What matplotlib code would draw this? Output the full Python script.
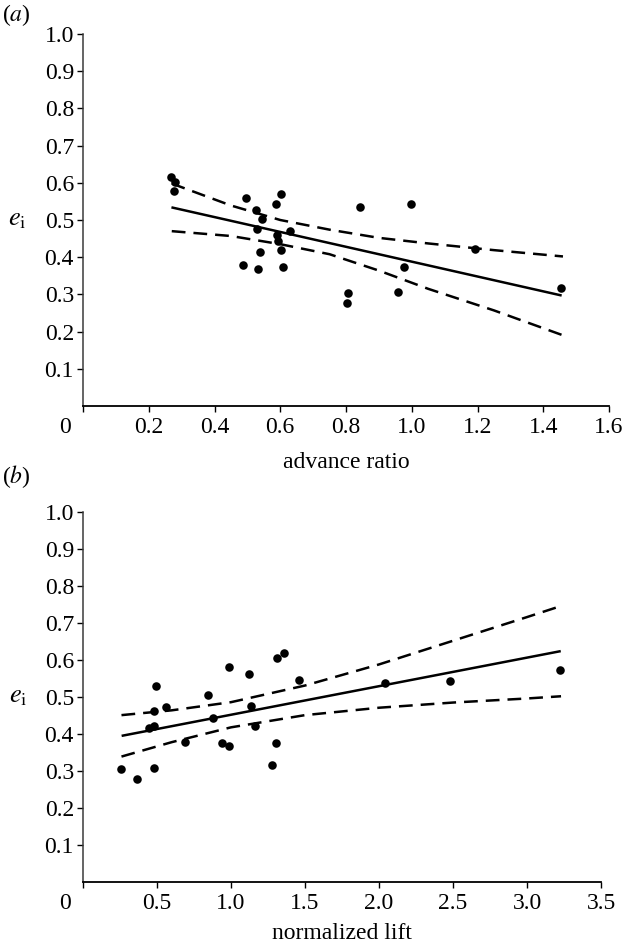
import matplotlib
matplotlib.use("Agg")
import matplotlib.pyplot as plt
import numpy as np

plt.rcParams['font.family'] = ['Liberation Serif', 'DejaVu Serif']
plt.rcParams['mathtext.fontset'] = 'stix'

# ---- Panel (a): advance ratio ----
adv_x = [0.269, 0.279, 0.278, 0.497, 0.603, 0.586, 0.525, 0.545, 0.529, 0.630,
         0.589, 0.594, 0.539, 0.603, 0.488, 0.531, 0.609, 0.844, 0.998, 1.193,
         0.975, 1.455, 0.807, 0.802, 0.958]
adv_y = [0.616, 0.603, 0.578, 0.560, 0.571, 0.544, 0.527, 0.503, 0.475, 0.471,
         0.461, 0.444, 0.415, 0.419, 0.378, 0.368, 0.374, 0.536, 0.542, 0.421,
         0.373, 0.316, 0.305, 0.278, 0.306]
adv_fit_x = [0.269, 1.456]
adv_fit_y = [0.534, 0.297]
adv_band_x = [0.27, 0.45, 0.60, 0.75, 0.90, 1.05, 1.25, 1.46]
adv_band_up = [0.598, 0.539, 0.500, 0.474, 0.452, 0.437, 0.419, 0.402]
adv_band_lo = [0.470, 0.457, 0.435, 0.408, 0.364, 0.315, 0.257, 0.190]
adv_xticks = [0, 0.2, 0.4, 0.6, 0.8, 1.0, 1.2, 1.4, 1.6]

# ---- Panel (b): normalized lift ----
lift_x = [0.259, 0.367, 0.482, 0.446, 0.480, 0.482, 0.496, 0.561, 0.689, 0.845,
          0.876, 0.939, 0.986, 0.986, 1.120, 1.135, 1.160, 1.275, 1.304, 1.311,
          1.361, 1.462, 2.039, 2.482, 3.226]
lift_y = [0.305, 0.278, 0.307, 0.417, 0.422, 0.461, 0.529, 0.473, 0.379, 0.505,
          0.444, 0.375, 0.580, 0.368, 0.561, 0.477, 0.422, 0.317, 0.376, 0.605,
          0.618, 0.546, 0.539, 0.544, 0.573]
lift_fit_x = [0.261, 3.228]
lift_fit_y = [0.395, 0.624]
lift_band_x = [0.26, 0.60, 1.00, 1.50, 2.00, 2.50, 3.00, 3.23]
lift_band_up = [0.451, 0.464, 0.486, 0.531, 0.588, 0.652, 0.716, 0.746]
lift_band_lo = [0.339, 0.378, 0.418, 0.451, 0.471, 0.485, 0.496, 0.502]
lift_xticks = [0, 0.5, 1.0, 1.5, 2.0, 2.5, 3.0, 3.5]

yticks = [0.1, 0.2, 0.3, 0.4, 0.5, 0.6, 0.7, 0.8, 0.9, 1.0]

FS = 17
W, H = 622, 947
fig = plt.figure(figsize=(W / 100, H / 100), dpi=100)

def make_axes(rect, xs, ys, fx, fy, bx, bu, bl, xticks, xmax, xlabel, label_y, tag, tag_y):
    ax = fig.add_axes(rect)
    ax.scatter(xs, ys, s=38, color='black', zorder=3, linewidths=0)
    ax.plot(fx, fy, color='black', lw=1.8, solid_capstyle='butt')
    dash = (0, (5.5, 3.2))
    ax.plot(bx, bu, color='black', lw=1.8, linestyle=dash)
    ax.plot(bx, bl, color='black', lw=1.8, linestyle=dash)
    ax.set_xlim(0, xmax)
    ax.set_ylim(0, 1.0)
    ax.set_xticks(xticks)
    ax.set_xticklabels([''] + [f'{t:.1f}' for t in xticks[1:]])
    ax.set_yticks(yticks)
    ax.set_yticklabels([f'{t:.1f}' for t in yticks])
    for s in ['top', 'right']:
        ax.spines[s].set_visible(False)
    ax.spines['left'].set_color('#3a3a3a')
    ax.spines['left'].set_linewidth(1.1)
    ax.spines['bottom'].set_linewidth(1.3)
    ax.tick_params(axis='both', direction='out', length=4.5, width=1.0,
                   labelsize=FS, colors='black')
    ax.tick_params(axis='y', pad=2)
    ax.tick_params(axis='x', pad=3.5)
    ax.annotate('0', xy=(0, 0), xycoords='data', xytext=(-13, -7.7),
                textcoords='offset points', ha='center', va='top', fontsize=FS)
    ax.set_xlabel(xlabel, fontsize=FS)
    ax.xaxis.set_label_coords(0.5, label_y)
    ax.xaxis.label.set_va('center')
    ax.set_ylabel(r'$e_{\mathrm{i}}$', fontsize=FS + 2, rotation=0)
    ax.yaxis.set_label_coords(-0.125, 0.5)
    ax.yaxis.label.set_va('center')
    fig.text(0.003, tag_y, tag, fontsize=FS, ha='left', va='center')
    return ax

make_axes([83 / W, 1 - 406 / H, 526 / W, 372 / H], adv_x, adv_y, adv_fit_x, adv_fit_y,
          adv_band_x, adv_band_up, adv_band_lo, adv_xticks, 1.6, 'advance ratio',
          -0.152, r'($a$)', 1 - 15 / H)
make_axes([83 / W, 1 - 882 / H, 518 / W, 370 / H], lift_x, lift_y, lift_fit_x, lift_fit_y,
          lift_band_x, lift_band_up, lift_band_lo, lift_xticks, 3.5, 'normalized lift',
          -0.138, r'($b$)', 1 - 477 / H)

fig.savefig('out.png', dpi=100)
